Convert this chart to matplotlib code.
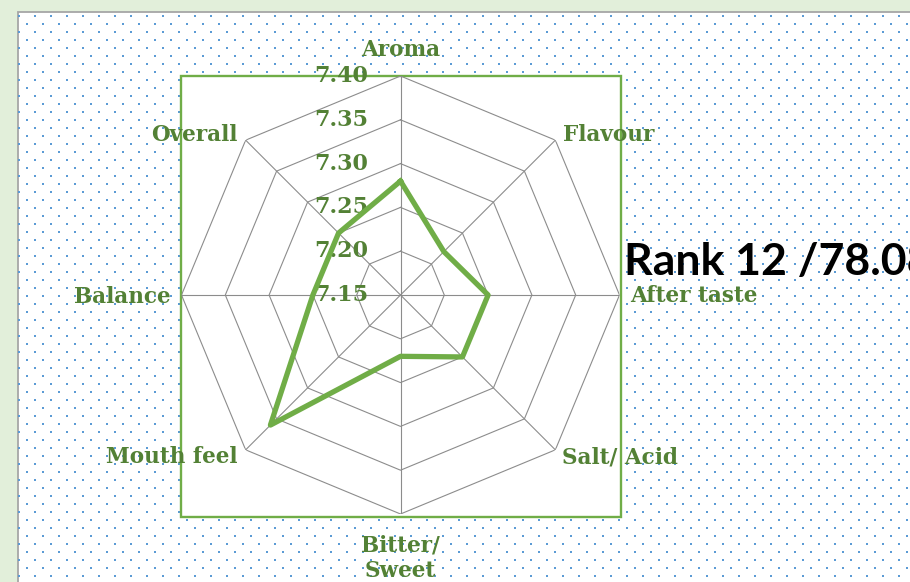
import numpy as np
import matplotlib
matplotlib.use("Agg")
import matplotlib.pyplot as plt
from matplotlib.patches import Rectangle

# data
categories = ["Aroma", "Flavour", "After taste", "Salt/ Acid",
              "Bitter/\nSweet", "Mouth feel", "Balance", "Overall"]
scores = [7.28, 7.22, 7.25, 7.25, 7.22, 7.36, 7.25, 7.25]
ring_values = [7.15, 7.20, 7.25, 7.30, 7.35, 7.40]
rank_text = "Rank 12 /78.08"

GREEN = "#70ad47"
DARK_GREEN = "#538135"
GRID = "#8c8c8c"

W, H = 910, 582
fig = plt.figure(figsize=(W / 100, H / 100), dpi=100)
fig.patch.set_facecolor("#e2efda")

# background layer in pixel coordinates (chart area, dot pattern, plot area box)
bg = fig.add_axes([0, 0, 1, 1])
bg.set_xlim(0, W)
bg.set_ylim(H, 0)
bg.axis("off")
bg.add_patch(Rectangle((17.5, 11.5), W + 20, H + 20, facecolor="white",
                       edgecolor="#a6a6a6", lw=1.3, zorder=0))
dx, dy = [], []
for k, yy in enumerate(np.arange(15.5, H + 5, 8)):
    start = 19 if k % 2 == 0 else 27
    for xx in np.arange(start, W + 5, 16):
        dx.append(xx)
        dy.append(yy)
bg.scatter(dx, dy, s=4.0, marker="s", color="#5b9bd5", lw=0, zorder=1)
bg.add_patch(Rectangle((180.5, 75.5), 440, 441, facecolor="white",
                       edgecolor=GREEN, lw=1.7, zorder=2))

# radar axes, centre at (400.5, 295) px, radius 219 px
cx, cy, R = 400.5, 295, 219
ax = fig.add_axes([(cx - R) / W, (H - cy - R) / H, 2 * R / W, 2 * R / H],
                  projection="polar")
ax.set_facecolor("none")
ax.spines["polar"].set_visible(False)
ax.set_theta_zero_location("N")
ax.set_theta_direction(-1)
ax.set_ylim(ring_values[0], ring_values[-1])
ax.set_xticks([])
ax.set_yticks([])
ax.grid(False)

n = len(categories)
angles = np.arange(n) * 2 * np.pi / n
closed = np.append(angles, angles[0])

for v in ring_values[1:]:
    ax.plot(closed, [v] * (n + 1), color=GRID, lw=0.8, zorder=1)
for a in angles:
    ax.plot([a, a], [ring_values[0], ring_values[-1]], color=GRID, lw=0.8, zorder=1)

# tick labels along the Aroma axis
for v in ring_values:
    ax.annotate("%.2f" % v, xy=(0, v), xytext=(-32, 0), textcoords="offset pixels",
                ha="right", va="center", fontsize=16, fontweight="bold",
                family="DejaVu Serif", color=DARK_GREEN, zorder=3)

ax.plot(closed, scores + scores[:1], color=GREEN, lw=3.8,
        solid_joinstyle="round", zorder=4)

# category labels
label_offsets = [(0, 26, "center"), (8, 5, "left"), (11, -1, "left"), (7, -8, "left"),
                 (0, -44, "center"), (-8, -7, "right"), (-11, -2, "right"), (-8, 5, "right")]
for a, name, (ox, oy, ha) in zip(angles, categories, label_offsets):
    ax.annotate(name, xy=(a, ring_values[-1]), xytext=(ox, oy), textcoords="offset pixels",
                ha=ha, va="center", fontsize=15.5, fontweight="bold", family="DejaVu Serif",
                color=DARK_GREEN, linespacing=1.2, zorder=5, annotation_clip=False)

fig.text(624 / W, 1 - 275 / H, rank_text, fontsize=32, fontweight="bold",
         family="Lato", color="black", ha="left", va="baseline")

fig.savefig("out.png", dpi=100, facecolor=fig.get_facecolor())
